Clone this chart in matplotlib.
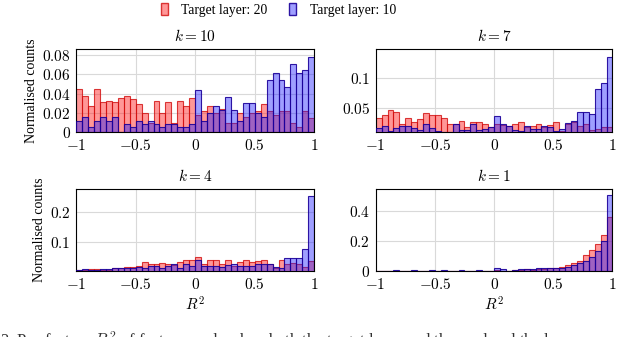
import numpy as np
import matplotlib
matplotlib.use("Agg")
import matplotlib.pyplot as plt
from matplotlib.ticker import FuncFormatter
from matplotlib.patches import Patch

plt.rcParams['font.family'] = ['Liberation Serif', 'DejaVu Serif']
plt.rcParams['mathtext.fontset'] = 'cm'

edges = np.linspace(-1, 1, 41)

# normalised counts per bin (40 bins, -1..1)
k10_l20 = [0.045, 0.038, 0.027, 0.045, 0.031, 0.033, 0.031, 0.036, 0.038, 0.035,
           0.029, 0.020, 0.010, 0.033, 0.020, 0.031, 0.010, 0.033, 0.027, 0.036,
           0.018, 0.022, 0.027, 0.020, 0.024, 0.010, 0.010, 0.020, 0.016, 0.020,
           0.022, 0.029, 0.022, 0.018, 0.022, 0.022, 0.010, 0.006, 0.022, 0.015]
k10_l10 = [0.012, 0.016, 0.006, 0.012, 0.016, 0.012, 0.016, 0.000, 0.009, 0.006,
           0.012, 0.009, 0.012, 0.009, 0.006, 0.009, 0.009, 0.006, 0.006, 0.009,
           0.044, 0.012, 0.020, 0.027, 0.023, 0.037, 0.023, 0.012, 0.030, 0.030,
           0.020, 0.016, 0.054, 0.061, 0.054, 0.047, 0.071, 0.061, 0.064, 0.078]

k7_l20 = [0.033, 0.037, 0.046, 0.043, 0.022, 0.033, 0.025, 0.030, 0.041, 0.037,
          0.037, 0.033, 0.023, 0.023, 0.027, 0.017, 0.025, 0.025, 0.023, 0.018,
          0.023, 0.020, 0.019, 0.022, 0.025, 0.018, 0.019, 0.022, 0.017, 0.021,
          0.025, 0.010, 0.022, 0.025, 0.019, 0.022, 0.012, 0.014, 0.017, 0.017]
k7_l10 = [0.015, 0.019, 0.010, 0.015, 0.019, 0.019, 0.015, 0.012, 0.023, 0.015,
          0.010, 0.009, 0.009, 0.022, 0.012, 0.012, 0.022, 0.012, 0.013, 0.018,
          0.036, 0.023, 0.019, 0.012, 0.010, 0.019, 0.014, 0.014, 0.019, 0.017,
          0.010, 0.014, 0.024, 0.027, 0.042, 0.042, 0.039, 0.082, 0.092, 0.136]

k4_l20 = [0.004, 0.004, 0.008, 0.008, 0.004, 0.004, 0.013, 0.013, 0.015, 0.015,
          0.018, 0.033, 0.026, 0.026, 0.028, 0.026, 0.022, 0.033, 0.040, 0.040,
          0.048, 0.024, 0.037, 0.039, 0.026, 0.037, 0.018, 0.033, 0.039, 0.033,
          0.035, 0.039, 0.026, 0.013, 0.037, 0.026, 0.029, 0.024, 0.015, 0.035]
k4_l10 = [0.004, 0.008, 0.004, 0.004, 0.008, 0.008, 0.013, 0.011, 0.013, 0.013,
          0.015, 0.013, 0.018, 0.018, 0.011, 0.018, 0.026, 0.013, 0.024, 0.018,
          0.040, 0.018, 0.018, 0.018, 0.015, 0.022, 0.024, 0.018, 0.018, 0.018,
          0.026, 0.026, 0.026, 0.015, 0.013, 0.044, 0.044, 0.044, 0.076, 0.252]

k1_l20 = [0.001, 0.000, 0.000, 0.001, 0.000, 0.000, 0.001, 0.000, 0.000, 0.001,
          0.000, 0.001, 0.000, 0.000, 0.001, 0.000, 0.000, 0.001, 0.000, 0.001,
          0.004, 0.003, 0.001, 0.004, 0.006, 0.010, 0.008, 0.012, 0.015, 0.018,
          0.020, 0.024, 0.038, 0.055, 0.069, 0.104, 0.140, 0.178, 0.244, 0.362]
k1_l10 = [0.003, 0.002, 0.003, 0.004, 0.003, 0.002, 0.004, 0.003, 0.002, 0.004,
          0.003, 0.004, 0.002, 0.003, 0.004, 0.003, 0.002, 0.004, 0.003, 0.003,
          0.022, 0.011, 0.003, 0.007, 0.011, 0.015, 0.011, 0.018, 0.020, 0.022,
          0.022, 0.020, 0.029, 0.042, 0.055, 0.067, 0.096, 0.133, 0.200, 0.511]

panels = [
    ("$k = 10$", k10_l20, k10_l10, (0, 0.086), [0, 0.02, 0.04, 0.06, 0.08]),
    ("$k = 7$", k7_l20, k7_l10, (0.008, 0.149), [0.05, 0.1]),
    ("$k = 4$", k4_l20, k4_l10, (0.002, 0.276), [0.1, 0.2]),
    ("$k = 1$", k1_l20, k1_l10, (0, 0.551), [0, 0.2, 0.4]),
]

positions = [
    [0.119, 0.607, 0.372, 0.247],
    [0.587, 0.607, 0.370, 0.247],
    [0.119, 0.196, 0.372, 0.243],
    [0.587, 0.196, 0.370, 0.243],
]

red_face = (1, 0.1, 0.1, 0.45)
red_edge = (0.82, 0.05, 0.05, 0.8)
blue_face = (0.1, 0.1, 1, 0.42)
blue_edge = (0.1, 0.0, 0.6, 0.9)

fig = plt.figure(figsize=(6.4, 3.37), dpi=100)

tick_fmt = FuncFormatter(lambda v, p: "$%g$" % v)

for i, (title, red_vals, blue_vals, ylim, yticks) in enumerate(panels):
    ax = fig.add_axes(positions[i])
    ax.bar(edges[:-1], red_vals, width=np.diff(edges), align='edge',
           facecolor=red_face, edgecolor=red_edge, linewidth=0.8, zorder=2)
    ax.bar(edges[:-1], blue_vals, width=np.diff(edges), align='edge',
           facecolor=blue_face, edgecolor=blue_edge, linewidth=0.8, zorder=3)
    ax.set_xlim(-1, 1)
    ax.set_ylim(*ylim)
    ax.set_xticks([-1, -0.5, 0, 0.5, 1])
    ax.set_yticks(yticks)
    ax.xaxis.set_major_formatter(tick_fmt)
    ax.yaxis.set_major_formatter(tick_fmt)
    ax.grid(True, color='#d9d9d9', linewidth=0.8, zorder=0)
    ax.set_axisbelow(True)
    ax.tick_params(direction='in', length=0, labelsize=11, pad=4)
    for s in ax.spines.values():
        s.set_linewidth(0.8)
    ax.set_title(title, fontsize=11, pad=6)
    if i % 2 == 0:
        ax.set_ylabel("Normalised counts", fontsize=10, labelpad=3)
    if i >= 2:
        ax.set_xlabel("$R^2$", fontsize=11, labelpad=3)

handles = [
    Patch(facecolor=red_face, edgecolor=red_edge, label="Target layer: 20"),
    Patch(facecolor=blue_face, edgecolor=blue_edge, label="Target layer: 10"),
]
fig.legend(handles=handles, loc='center', bbox_to_anchor=(0.435, 0.97), ncol=2,
           frameon=False, fontsize=9.8, handlelength=0.5, handleheight=1.0,
           handletextpad=1.0, columnspacing=1.6)

fig.text(0.0, -0.01, "2. Per-feature $R^2$ of feature reads when both the target layer and the read and the layer",
         fontsize=12, ha='left', va='center', color='#333333')

fig.savefig("out.png", dpi=100)
